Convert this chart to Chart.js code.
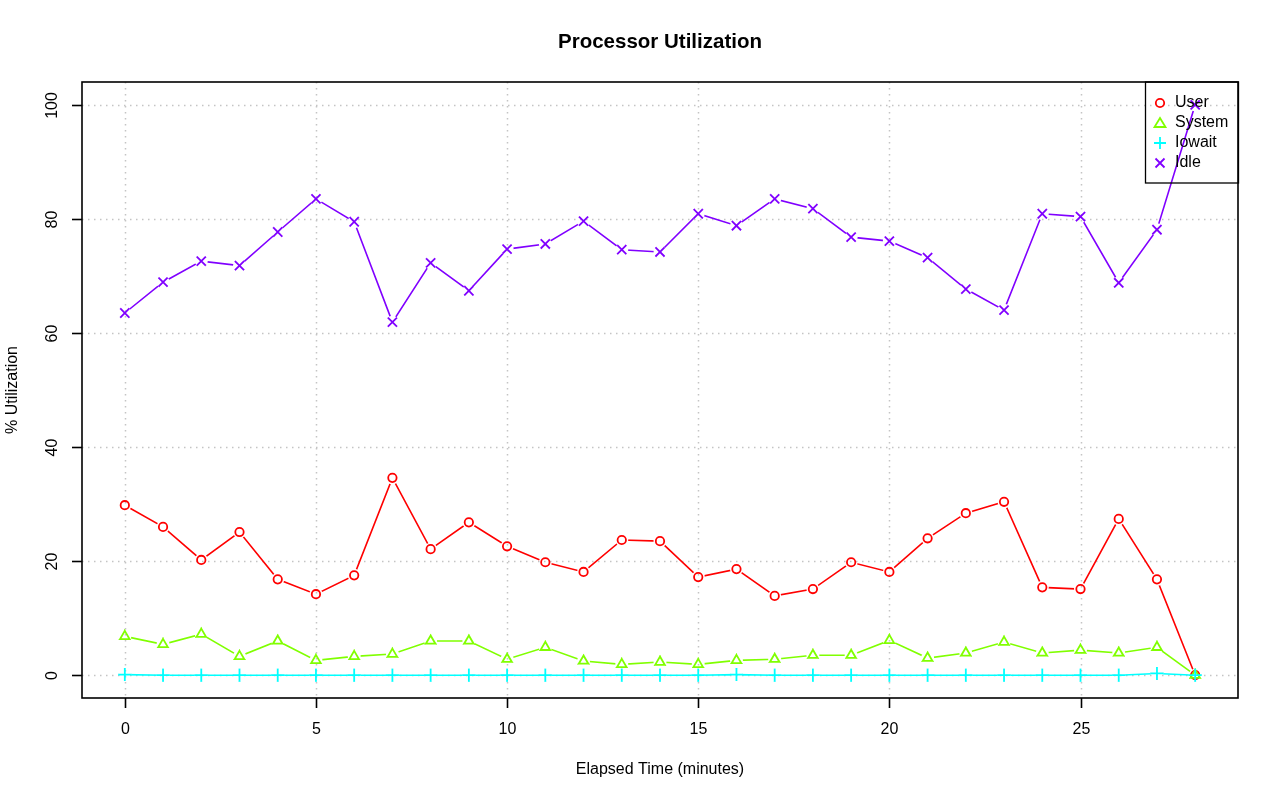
<!DOCTYPE html>
<html lang="en">
<head>
    <meta charset="UTF-8">
    <title>Processor Utilization</title>
    <style>
        body { margin: 0; background: #fff; }
        canvas { display: block; }
    </style>
</head>
<body>
    <canvas id="myChart" width="1280" height="801"></canvas>

    <script src="https://cdn.jsdelivr.net/npm/chart.js@4.4.0/dist/chart.umd.min.js"></script>
    <script>
        // Data
        const minutes = [0,1,2,3,4,5,6,7,8,9,10,11,12,13,14,15,16,17,18,19,20,21,22,23,24,25,26,27,28];
        const userVals   = [29.8,26.0,20.2,25.1,16.8,14.2,17.5,34.6,22.1,26.8,22.6,19.8,18.1,23.7,23.5,17.2,18.6,13.9,15.1,19.8,18.1,24.0,28.4,30.4,15.4,15.1,27.4,16.8,0];
        const systemVals = [6.8,5.4,7.2,3.3,6.0,2.6,3.3,3.7,6.0,6.0,2.8,4.9,2.5,1.9,2.3,1.9,2.6,2.8,3.5,3.5,6.1,3.0,3.9,5.8,3.9,4.4,3.9,4.9,0];
        const iowaitVals = [0.1,0,0,0,0,0,0,0,0,0,0,0,0,0,0,0,0.1,0,0,0,0,0,0,0,0,0,0,0.3,0];
        const idleVals   = [63.5,68.9,72.6,71.8,77.7,83.5,79.5,61.9,72.3,67.4,74.7,75.6,79.6,74.6,74.2,80.9,78.8,83.5,81.8,76.8,76.1,73.2,67.7,64.0,80.9,80.4,68.8,78.1,100];
        const xTicks = [0,5,10,15,20,25];
        const yTicks = [0,20,40,60,80,100];

        const seriesNames  = ['User', 'System', 'Iowait', 'Idle'];
        const seriesColors = ['#FF0000', '#80FF00', '#00FFFF', '#8000FF'];
        const seriesStyles = ['circle', 'triangle', 'cross', 'crossRot'];
        const seriesValues = [userVals, systemVals, iowaitVals, idleVals];
        const seriesRadius = [4.2, 5.5, 6.5, 6.4];

        const FONT = '"Liberation Sans", Arial, sans-serif';
        const GAP = 6.5; // R type="b": lines stop short of the points

        // leave a gap in the line around each point, then redraw the points
        const pointGaps = {
            id: 'pointGaps',
            beforeDatasetDraw(chart, args) {
                const { ctx, chartArea: a } = chart;
                ctx.save();
                ctx.beginPath();
                ctx.rect(a.left, a.top, a.right - a.left, a.bottom - a.top);
                args.meta.data.forEach(p => {
                    ctx.moveTo(p.x + GAP, p.y);
                    ctx.arc(p.x, p.y, GAP, 0, Math.PI * 2);
                });
                ctx.clip('evenodd');
            },
            afterDatasetDraw(chart, args) {
                const { ctx } = chart;
                ctx.restore();
                args.meta.data.forEach(p => p.draw(ctx, chart.chartArea));
            }
        };

        // R style frame: grid, box, ticks, labels, legend
        const rFrame = {
            id: 'rFrame',
            beforeDatasetsDraw(chart) {
                const { ctx, chartArea: a, scales: { x, y } } = chart;
                ctx.save();
                ctx.strokeStyle = '#C4C4C4';
                ctx.lineWidth = 1.5;
                ctx.setLineDash([1.5, 4.5]);
                xTicks.forEach(v => {
                    const px = Math.round(x.getPixelForValue(v)) + 0.5;
                    ctx.beginPath(); ctx.moveTo(px, a.top); ctx.lineTo(px, a.bottom); ctx.stroke();
                });
                yTicks.forEach(v => {
                    const py = Math.round(y.getPixelForValue(v)) + 0.5;
                    ctx.beginPath(); ctx.moveTo(a.left, py); ctx.lineTo(a.right, py); ctx.stroke();
                });
                ctx.restore();
            },
            afterDraw(chart) {
                const { ctx, chartArea: a, scales: { x, y } } = chart;
                ctx.save();
                ctx.strokeStyle = '#000';
                ctx.fillStyle = '#000';
                ctx.lineWidth = 1.6;
                ctx.strokeRect(a.left, a.top, a.right - a.left, a.bottom - a.top);

                // x ticks
                ctx.font = '16px ' + FONT;
                ctx.textAlign = 'center';
                ctx.textBaseline = 'middle';
                xTicks.forEach(v => {
                    const px = Math.round(x.getPixelForValue(v)) + 0.5;
                    ctx.beginPath(); ctx.moveTo(px, a.bottom); ctx.lineTo(px, a.bottom + 10); ctx.stroke();
                    ctx.fillText(String(v), px, a.bottom + 32);
                });
                // y ticks
                yTicks.forEach(v => {
                    const py = Math.round(y.getPixelForValue(v)) + 0.5;
                    ctx.beginPath(); ctx.moveTo(a.left, py); ctx.lineTo(a.left - 10, py); ctx.stroke();
                    ctx.save();
                    ctx.translate(a.left - 29, py);
                    ctx.rotate(-Math.PI / 2);
                    ctx.fillText(String(v), 0, 0);
                    ctx.restore();
                });

                // axis titles
                ctx.fillText('Elapsed Time (minutes)', (a.left + a.right) / 2, 770);
                ctx.save();
                ctx.translate(13, (a.top + a.bottom) / 2);
                ctx.rotate(-Math.PI / 2);
                ctx.fillText('% Utilization', 0, 0);
                ctx.restore();

                // main title
                ctx.font = 'bold 20.5px ' + FONT;
                ctx.fillText('Processor Utilization', (a.left + a.right) / 2, 42);

                // legend (no fill, like R's legend over the plot)
                const lx = 1145, ly = a.top, lw = a.right - lx, lh = 101;
                ctx.lineWidth = 1.3;
                ctx.strokeRect(lx + 0.5, ly, lw, lh);
                ctx.font = '16px ' + FONT;
                ctx.textAlign = 'left';
                seriesNames.forEach((name, i) => {
                    const cy = ly + 21 + i * 20;
                    ctx.fillStyle = '#000';
                    ctx.fillText(name, 1175, cy);
                    ctx.strokeStyle = seriesColors[i];
                    ctx.lineWidth = 1.8;
                    drawMarker(ctx, seriesStyles[i], 1160, cy);
                });
                ctx.restore();
            }
        };

        function drawMarker(ctx, style, cx, cy) {
            ctx.beginPath();
            if (style === 'circle') {
                ctx.arc(cx, cy, 4.2, 0, Math.PI * 2);
            } else if (style === 'triangle') {
                ctx.moveTo(cx, cy - 5); ctx.lineTo(cx + 5.5, cy + 4); ctx.lineTo(cx - 5.5, cy + 4); ctx.closePath();
            } else if (style === 'cross') {
                ctx.moveTo(cx - 6, cy); ctx.lineTo(cx + 6, cy); ctx.moveTo(cx, cy - 6); ctx.lineTo(cx, cy + 6);
            } else {
                ctx.moveTo(cx - 4.5, cy - 4.5); ctx.lineTo(cx + 4.5, cy + 4.5); ctx.moveTo(cx + 4.5, cy - 4.5); ctx.lineTo(cx - 4.5, cy + 4.5);
            }
            ctx.stroke();
        }

        const datasets = seriesNames.map((name, i) => ({
            label: name,
            data: minutes.map((m, j) => ({ x: m, y: seriesValues[i][j] })),
            borderColor: seriesColors[i],
            backgroundColor: 'rgba(0,0,0,0)',
            borderWidth: 1.6,
            pointStyle: seriesStyles[i],
            pointRadius: seriesRadius[i],
            pointBorderWidth: 1.8,
            pointBorderColor: seriesColors[i],
            pointBackgroundColor: 'rgba(0,0,0,0)',
            tension: 0,
            order: 4 - i
        }));

        new Chart(document.getElementById('myChart'), {
            type: 'line',
            data: { datasets },
            options: {
                responsive: false,
                devicePixelRatio: 1,
                animation: false,
                layout: { padding: { left: 82, right: 42, top: 82, bottom: 103 } },
                plugins: { legend: { display: false }, tooltip: { enabled: false }, title: { display: false } },
                scales: {
                    x: { type: 'linear', min: -1.12, max: 29.12, display: false },
                    y: { type: 'linear', min: -4, max: 104, display: false }
                }
            },
            plugins: [rFrame, pointGaps]
        });
    </script>
</body>
</html>
